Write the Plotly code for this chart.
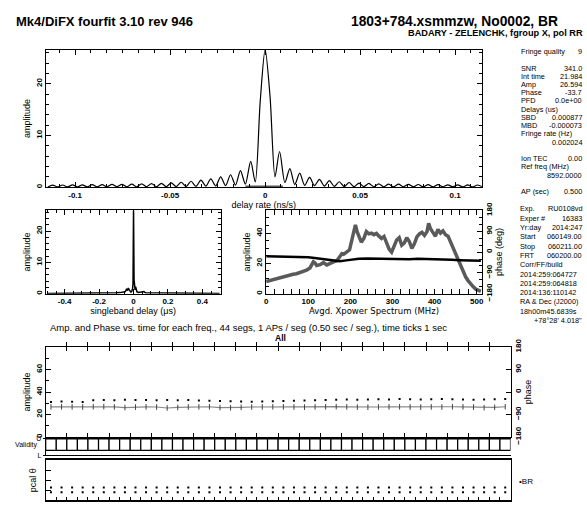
import plotly.graph_objects as go

W, H = 587, 508
FONT = "Liberation Sans, Arial, sans-serif"

# ---------------- data ----------------
rate_x = [-0.1144, -0.1118, -0.1092, -0.1066, -0.1040, -0.1014, -0.0988, -0.0962, -0.0936, -0.0910,
          -0.0884, -0.0858, -0.0832, -0.0806, -0.0780, -0.0754, -0.0728, -0.0702, -0.0676, -0.0650,
          -0.0624, -0.0598, -0.0572, -0.0546, -0.0520, -0.0494, -0.0468, -0.0442, -0.0416, -0.0390,
          -0.0364, -0.0338, -0.0312, -0.0286, -0.0260, -0.0234, -0.0208, -0.0182, -0.0156, -0.0130,
          -0.0104, -0.0076, -0.0052, -0.0026, 0.0, 0.0026, 0.0052, 0.0076, 0.0104, 0.0130,
          0.0156, 0.0182, 0.0208, 0.0234, 0.0260, 0.0286, 0.0312, 0.0338, 0.0364, 0.0390,
          0.0416, 0.0442, 0.0468, 0.0494, 0.0520, 0.0546, 0.0572, 0.0598, 0.0624, 0.0650,
          0.0676, 0.0702, 0.0728, 0.0754, 0.0780, 0.0806, 0.0832, 0.0858, 0.0884, 0.0910,
          0.0936, 0.0962, 0.0988, 0.1014, 0.1040, 0.1066, 0.1092, 0.1118, 0.1144]
rate_amp = [0.05, 0.40, 0.05, 0.42, 0.05, 0.45, 0.05, 0.45, 0.05, 0.48,
            0.05, 0.50, 0.06, 0.55, 0.06, 0.55, 0.07, 0.60, 0.07, 0.65,
            0.08, 0.70, 0.08, 0.75, 0.10, 0.85, 0.10, 0.95, 0.12, 1.15,
            0.15, 1.35, 0.20, 1.60, 0.25, 2.00, 0.30, 2.40, 0.40, 3.20,
            0.60, 5.00, 1.00, 16.5, 26.6, 17.5, 2.00, 6.90, 0.90, 3.60,
            0.50, 2.70, 0.35, 1.90, 0.30, 1.50, 0.20, 1.25, 0.15, 1.05,
            0.12, 0.90, 0.10, 0.80, 0.10, 0.72, 0.08, 0.65, 0.08, 0.60,
            0.07, 0.58, 0.07, 0.55, 0.06, 0.52, 0.06, 0.50, 0.05, 0.48,
            0.05, 0.46, 0.05, 0.45, 0.05, 0.43, 0.05, 0.42, 0.05]
rate_window = [-0.0104, 0.0094]

sbd_x = [-0.5, -0.45, -0.4, -0.35, -0.3, -0.25, -0.2, -0.15, -0.12, -0.1, -0.08, -0.06, -0.05,
         -0.045, -0.04, -0.035, -0.03, -0.025, -0.02, -0.015, -0.01, -0.006, -0.003, 0.0, 0.003,
         0.006, 0.009, 0.012, 0.016, 0.02, 0.03, 0.04, 0.05, 0.06, 0.07, 0.08, 0.1, 0.15, 0.2,
         0.25, 0.3, 0.35, 0.4, 0.45, 0.5]
sbd_amp = [0.1, 0.1, 0.12, 0.1, 0.15, 0.12, 0.15, 0.2, 0.25, 0.3, 0.35, 0.5, 0.6,
           0.9, 1.6, 1.0, 1.8, 1.2, 0.7, 0.5, 0.8, 1.5, 3.0, 26.6, 4.6,
           2.0, 1.2, 2.2, 0.8, 0.6, 0.4, 0.5, 0.4, 0.7, 0.3, 0.3, 0.25, 0.2, 0.15,
           0.12, 0.1, 0.12, 0.1, 0.1, 0.1]

xp_freq = [0, 8, 16, 24, 32, 40, 48, 56, 64, 72, 80, 88, 96, 104, 108, 112, 116, 120, 128, 136,
           144, 152, 160, 168, 176, 180, 184, 192, 198, 204, 208, 212, 216, 220, 226, 232, 238, 244,
           250, 256, 262, 268, 274, 280, 286, 292, 298, 304, 310, 316, 322, 328, 334, 340, 346, 352,
           358, 364, 370, 376, 382, 386, 390, 396, 402, 408, 414, 420, 426, 432, 438, 444, 450, 456,
           462, 468, 474, 480, 486, 492, 498, 504, 510]
xp_amp = [8.0, 8.6, 9.5, 10.0, 10.8, 11.3, 11.6, 12.4, 12.8, 13.2, 13.8, 14.6, 15.6, 17.0, 19.5,
          21.0, 20.2, 18.6, 19.2, 20.5, 19.0, 20.2, 21.0, 21.8, 24.5, 26.5, 26.0, 27.5, 29.0, 36.0,
          42.0, 45.5, 41.0, 37.5, 34.0, 36.5, 41.0, 39.5, 40.0, 39.0, 39.8, 38.0, 36.5, 37.8, 33.0,
          29.5, 27.5, 31.0, 35.5, 37.0, 32.0, 33.5, 37.0, 34.5, 30.0, 33.0, 37.5, 39.5, 40.5, 38.5,
          41.0, 46.5, 43.0, 40.5, 38.0, 42.5, 40.0, 41.5, 39.0, 38.0, 34.0, 30.0, 26.0, 22.0, 18.0,
          14.5, 11.0, 8.5, 6.0, 4.5, 3.0, 2.0, 1.5]
xp_phase_freq = [0, 20, 40, 60, 80, 100, 115, 130, 145, 160, 175, 190, 205, 220, 240, 260, 280,
                 300, 320, 340, 360, 380, 400, 420, 440, 460, 480, 500, 510]
xp_phase = [-18, -19, -18, -20, -21, -22, -26, -30, -34, -38, -40, -36, -31, -29, -28, -29, -27,
            -30, -29, -31, -29, -30, -28, -31, -33, -35, -37, -36, -38]

seg_pos = [0.5, 1.5, 2.5, 3.5, 4.5, 5.5, 6.5, 7.5, 8.5, 9.5, 10.5, 11.5, 12.5, 13.5, 14.5,
           15.5, 16.5, 17.5, 18.5, 19.5, 20.5, 21.5, 22.5, 23.5, 24.5, 25.5, 26.5, 27.5, 28.5,
           29.5, 30.5, 31.5, 32.5, 33.5, 34.5, 35.5, 36.5, 37.5, 38.5, 39.5, 40.5, 41.5, 42.5, 43.5]
seg_amp = [26.8, 26.9, 26.8, 26.7, 26.9, 27.0, 26.8, 26.2, 26.6, 26.8, 26.7, 25.8, 26.3, 26.7,
           26.8, 26.9, 26.2, 26.0, 26.4, 26.7, 26.8, 26.9, 26.8, 26.7, 26.6, 26.8, 26.9, 27.0,
           26.8, 26.6, 26.5, 26.7, 26.8, 26.9, 26.7, 26.6, 26.8, 26.7, 26.9, 26.8, 26.6, 26.1,
           26.4, 26.9]
seg_phase = [-40, -38, -39, -40, -33, -32, -33, -31, -32, -32, -33, -32, -33, -32, -34, -35,
             -36, -37, -38, -39, -38, -37, -36, -35, -34, -33, -32, -31, -30, -31, -30, -29,
             -30, -28, -29, -30, -29, -28, -29, -30, -31, -30, -29, -28]
seg_valid = [1, 1, 1, 1, 1, 1, 1, 1, 1, 1, 1, 1, 1, 1, 1, 1, 1, 1, 1, 1, 1, 1,
             1, 1, 1, 1, 1, 1, 1, 1, 1, 1, 1, 1, 1, 1, 1, 1, 1, 1, 1, 1, 1, 1]
pcal_ref = [-66, -66, -66, -66, -66, -66, -66, -66, -66, -66, -66, -66, -66, -66, -66,
            -66, -66, -66, -66, -66, -66, -66, -66, -66, -66, -66, -66, -66, -66, -66,
            -66, -66, -66, -66, -66, -66, -66, -66, -66, -66, -66, -66, -66, -66]
pcal_rem = [-110, -110, -110, -110, -110, -110, -110, -110, -110, -110, -110, -110, -110,
            -110, -110, -110, -110, -110, -110, -110, -110, -110, -110, -110, -110, -110,
            -110, -110, -110, -110, -110, -110, -110, -110, -110, -110, -110, -110, -110,
            -110, -110, -110, -110, -110]

info_rows = [
    ("Fringe quality", "9"), ("", ""), ("SNR", "341.0"), ("Int time", "21.984"),
    ("Amp", "26.594"), ("Phase", "-33.7"), ("PFD", "0.0e+00"), ("Delays (us)", ""),
    ("SBD", "0.000877"), ("MBD", "-0.000073"), ("Fringe rate (Hz)", ""), ("", "0.002024"),
    ("", ""), ("Ion TEC", "0.00"), ("Ref freq (MHz)", ""), ("", "8592.0000"), ("", ""),
    ("AP (sec)", "0.500"),
]
info_rows2 = [
    ("Exp.", "RU0108vd"), ("Exper #", "16383"), ("Yr:day", "2014:247"), ("Start", "060149.00"),
    ("Stop", "060211.00"), ("FRT", "060200.00"), ("Corr/FF/build", ""), ("2014:259:064727", ""),
    ("2014:259:064818", ""), ("2014:136:110142", ""), ("RA & Dec (J2000)", ""),
    ("18h00m45.6839s", ""), ("", "+78\u00b028' 4.018\""),
]

# ---------------- helpers (pixel -> paper) ----------------
def dx(a, b):
    return [a / W, b / W]

def dy(top, bottom):
    return [max(0.0, 1 - bottom / H), 1 - top / H]

TICKFONT = dict(size=8, family=FONT, color="black", weight="bold")
TITLEFONT = dict(size=9, family=FONT, color="black")

def axis(**kw):
    d = dict(showline=True, linecolor="black", linewidth=1, ticks="inside", ticklen=5,
             tickcolor="black", tickwidth=1, showgrid=False, zeroline=False,
             tickfont=TICKFONT)
    d.update(kw)
    return d

def minor(dt, ln=3):
    return dict(ticks="inside", ticklen=ln, dtick=dt, tickcolor="black", showgrid=False)

fig = go.Figure()

fig.add_trace(go.Scatter(x=rate_x, y=rate_amp, mode="lines", xaxis="x", yaxis="y",
                         line=dict(color="black", width=1.2, shape="spline", smoothing=0.8)))
fig.add_trace(go.Scatter(x=rate_window, y=[0, 0], mode="lines", xaxis="x", yaxis="y",
                         cliponaxis=False, line=dict(color="#555555", width=3.5)))
fig.add_trace(go.Scatter(x=sbd_x, y=sbd_amp, mode="lines", xaxis="x2", yaxis="y2",
                         line=dict(color="black", width=1.5)))
fig.add_trace(go.Scatter(x=xp_freq, y=xp_amp, mode="lines", xaxis="x3", yaxis="y3",
                         line=dict(color="#5a5a5a", width=3.5)))
fig.add_trace(go.Scatter(x=xp_phase_freq, y=xp_phase, mode="lines", xaxis="x3", yaxis="y4",
                         line=dict(color="black", width=2.5)))
fig.add_trace(go.Scatter(x=seg_pos, y=seg_amp, mode="lines+markers", xaxis="x4", yaxis="y5",
                         line=dict(color="#888888", width=1.2),
                         marker=dict(symbol="line-ns", size=4, color="#444444",
                                     line=dict(width=1, color="#444444"))))
fig.add_trace(go.Scatter(x=seg_pos, y=seg_phase, mode="markers", xaxis="x4", yaxis="y6",
                         marker=dict(symbol="square", size=2, color="black")))
fig.add_trace(go.Bar(x=seg_pos, y=[v * 0.69 for v in seg_valid], base=0.31, width=1,
                     xaxis="x5", yaxis="y7",
                     marker=dict(color="white", line=dict(color="black", width=1.2))))
fig.add_trace(go.Scatter(x=seg_pos, y=pcal_ref, mode="markers", xaxis="x6", yaxis="y8",
                         marker=dict(symbol="square", size=2, color="black")))
fig.add_trace(go.Scatter(x=seg_pos, y=pcal_rem, mode="markers", xaxis="x6", yaxis="y8",
                         marker=dict(symbol="square", size=2, color="black")))

lay = dict(
    width=W, height=H, autosize=False, margin=dict(l=0, r=0, t=0, b=0),
    paper_bgcolor="white", plot_bgcolor="white", showlegend=False, bargap=0,
    font=dict(family=FONT, color="black"), hovermode=False,
)

lay["xaxis"] = axis(domain=dx(44, 483), range=[-0.1155, 0.1140], anchor="y", mirror="allticks",
                    tickvals=[-0.1, -0.05, 0, 0.05, 0.1], ticktext=["-0.1", "-0.05", "0", "0.05", "0.1"],
                    minor=minor(0.05 / 6), title=dict(text="delay rate (ns/s)", font=TITLEFONT, standoff=2))
lay["yaxis"] = axis(domain=dy(43, 185), range=[0, 26.6], anchor="x", mirror="allticks",
                    dtick=10, tickangle=-90, minor=minor(2),
                    title=dict(text="amplitude", font=TITLEFONT, standoff=2))
lay["xaxis2"] = axis(domain=dx(44, 220), range=[-0.51, 0.505], anchor="y2", mirror="allticks",
                     tickvals=[-0.4, -0.2, 0, 0.2, 0.4], ticktext=["-0.4", "-0.2", "0", "0.2", "0.4"],
                     minor=minor(0.05),
                     title=dict(text="singleband delay (\u03bcs)", font=TITLEFONT, standoff=2))
lay["yaxis2"] = axis(domain=dy(209, 295), range=[0, 26.6], anchor="x2", mirror="allticks",
                     dtick=10, tickangle=-90, minor=minor(2),
                     title=dict(text="amplitude", font=TITLEFONT, standoff=2))
lay["xaxis3"] = axis(domain=dx(266, 483), range=[0, 512], anchor="y3", mirror="allticks",
                     dtick=100, minor=minor(20),
                     title=dict(text="Avgd. Xpower Spectrum (MHz)",
                                font=dict(size=8.5, family="DejaVu Sans", color="black"), standoff=2))
lay["yaxis3"] = axis(domain=dy(209, 295), range=[0, 55], anchor="x3", mirror=True,
                     dtick=20, tickangle=-90, minor=minor(5),
                     title=dict(text="amplitude", font=TITLEFONT, standoff=2))
lay["yaxis4"] = axis(overlaying="y3", side="right", anchor="x3", range=[-180, 180],
                     tickvals=[-180, -90, 0, 90, 180], tickangle=-90, minor=minor(30),
                     title=dict(text="phase (deg)", font=TITLEFONT, standoff=2))
lay["xaxis4"] = axis(domain=dx(44, 512), range=[0, 44], anchor="y5", mirror="allticks",
                     dtick=2, tick0=0, showticklabels=False, ticklen=4)
lay["yaxis5"] = axis(domain=dy(350, 443), range=[0, 80], anchor="x4", mirror=True,
                     tickvals=[0, 20, 40, 60], tickangle=-90, minor=minor(10),
                     title=dict(text="amplitude", font=TITLEFONT, standoff=2))
lay["yaxis6"] = axis(overlaying="y5", side="right", anchor="x4", range=[-180, 180],
                     tickvals=[-180, -90, 0, 90, 180], tickangle=-90,
                     title=dict(text="phase", font=TITLEFONT, standoff=2))
lay["xaxis5"] = axis(domain=dx(44, 512), range=[0, 44], anchor="y7", mirror=True,
                     ticks="", showticklabels=False)
lay["yaxis7"] = axis(domain=dy(445, 462), range=[0, 1], anchor="x5", mirror=False,
                     tickvals=[0, 1], ticktext=["L", "U"], ticks="outside", ticklen=2,
                     tickfont=dict(size=7, family=FONT, color="black"))
lay["xaxis6"] = axis(domain=dx(44, 512), range=[0, 44], anchor="y8", mirror=True,
                     linewidth=2, dtick=1, ticklen=3, showticklabels=False)
lay["yaxis8"] = axis(domain=dy(467, 508), range=[-180, 180], anchor="x6", mirror=True,
                     showticklabels=False, dtick=90,
                     title=dict(text="pcal \u03b8", font=TITLEFONT, standoff=6))

ann = []
def text(x, y, s, size=8, anchor="left", bold=False, family=FONT):
    ann.append(dict(x=x / W, y=1 - y / H, xref="paper", yref="paper", text=s,
                    showarrow=False, xanchor=anchor, yanchor="middle", borderpad=0,
                    font=dict(size=size, family=family, color="black",
                              weight="bold" if bold else "normal")))

text(13, 14, "Mk4/DiFX fourfit 3.10 rev 946", size=13, bold=True)
text(561, 14, "1803+784.xsmmzw, No0002, BR", size=13.8, anchor="right", bold=True)
text(586, 26, "BADARY - ZELENCHK, fgroup X, pol RR", size=9.2, anchor="right", bold=True)

for i, (lab, val) in enumerate(info_rows):
    yy = 45 + i * 8.5
    if lab:
        text(522, yy, lab, size=7.3)
    if val:
        text(585, yy, val, size=7.3, anchor="right")
for i, (lab, val) in enumerate(info_rows2):
    yy = 207.5 + i * 9.6
    if lab:
        text(521, yy, lab, size=7.3)
    if val:
        text(585, yy, val, size=7.3, anchor="right")

text(248, 330, "Amp. and Phase vs. time for each freq., 44 segs, 1 APs / seg (0.50 sec / seg.), time ticks 1 sec",
     size=9.5, anchor="center")
text(280, 341, "All", size=8.5, anchor="center", bold=True)
text(37, 451, "Validity", size=7, anchor="right")
text(520, 489, "\u2022BR", size=8)

lay["annotations"] = ann
fig.update_layout(**lay)
# the page body margin is removed so that the 587x508 figure fills the window exactly
fig.write_html("out.html", config={"staticPlot": True, "displayModeBar": False},
               post_script="document.body.style.margin='0px';")
